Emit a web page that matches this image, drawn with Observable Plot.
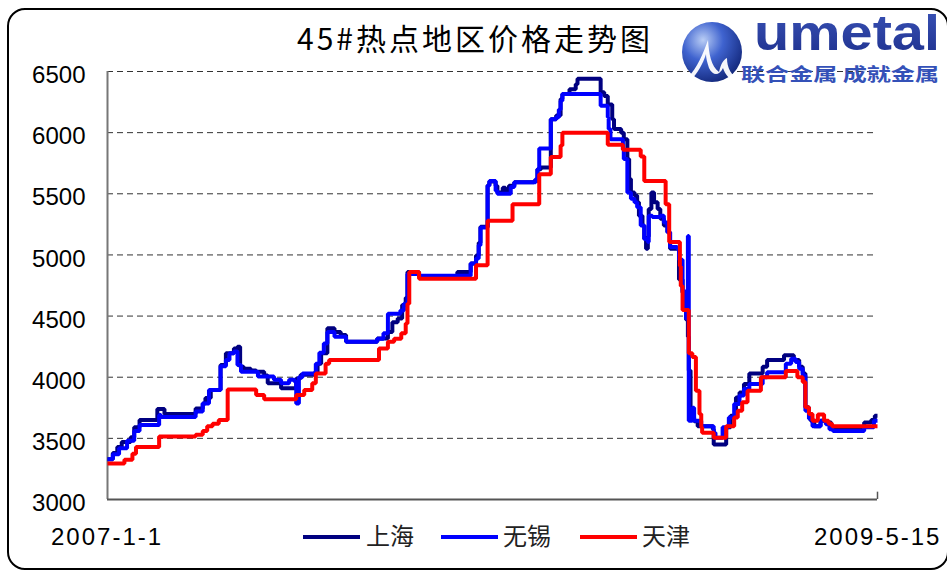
<!DOCTYPE html>
<html><head><meta charset="utf-8">
<script src="https://cdn.jsdelivr.net/npm/d3@7"></script>
<script src="https://cdn.jsdelivr.net/npm/@observablehq/plot@0.6"></script>
<style>
html,body{margin:0;padding:0;background:#fff;}
#wrap{position:relative;width:947px;height:572px;overflow:hidden;background:#fff;}
#wrap svg.chart{position:absolute;left:0;top:0;}
.frame{position:absolute;left:7px;top:8px;width:942px;height:562px;box-sizing:border-box;border:2px solid #000;border-radius:18px;pointer-events:none;}
.xl{position:absolute;top:525px;font-family:"Liberation Sans",Arial,sans-serif;font-size:24px;line-height:24px;letter-spacing:2px;color:#000;white-space:nowrap;}
.lg-line{position:absolute;height:4px;top:535px;}
.lg-text{position:absolute;top:523px;font-family:"Noto Sans CJK SC",sans-serif;font-size:24px;line-height:24px;color:#222;white-space:nowrap;}
.overlay{position:absolute;left:0;top:0;}
</style></head>
<body><div id="wrap"></div>
<script>
// ---- data ----
const titleText = "45#热点地区价格走势图";
const cities = ["上海", "无锡", "天津"];
const cityColors = ["#000080", "#0000FF", "#FF0000"];
const xStart = "2007-01-01";
const xEnd = "2009-05-15";
const xLabels = ["2007-1-1", "2009-5-15"];
const yTicks = [3000, 3500, 4000, 4500, 5000, 5500, 6000, 6500];

const shDates = ["2007-01-01","2007-01-07","2007-01-12","2007-01-17","2007-01-27","2007-01-31","2007-02-06","2007-02-26","2007-03-06","2007-04-10","2007-04-18","2007-04-21","2007-04-27","2007-05-08","2007-05-14","2007-05-23","2007-05-27","2007-05-30","2007-06-03","2007-06-11","2007-06-17","2007-06-26","2007-06-30","2007-07-15","2007-08-01","2007-08-06","2007-08-21","2007-08-25","2007-08-29","2007-09-05","2007-09-13","2007-09-20","2007-09-26","2007-10-31","2007-11-12","2007-11-17","2007-11-23","2007-11-28","2007-12-02","2007-12-04","2007-12-17","2008-01-29","2008-02-13","2008-02-19","2008-02-22","2008-02-24","2008-03-03","2008-03-05","2008-03-12","2008-03-14","2008-03-20","2008-03-23","2008-03-27","2008-04-02","2008-04-24","2008-04-28","2008-05-02","2008-05-13","2008-05-19","2008-05-24","2008-05-26","2008-06-03","2008-06-10","2008-06-12","2008-07-08","2008-07-12","2008-07-16","2008-07-21","2008-07-23","2008-07-31","2008-08-03","2008-08-07","2008-08-09","2008-08-11","2008-08-15","2008-08-18","2008-08-20","2008-08-24","2008-08-26","2008-08-28","2008-08-30","2008-08-31","2008-09-03","2008-09-06","2008-09-10","2008-09-13","2008-09-17","2008-09-21","2008-09-24","2008-10-04","2008-10-08","2008-10-12","2008-10-14","2008-10-15","2008-10-17","2008-10-21","2008-10-25","2008-11-11","2008-11-12","2008-11-26","2008-12-01","2008-12-07","2008-12-11","2008-12-16","2008-12-22","2009-01-06","2009-01-11","2009-01-30","2009-02-10","2009-02-16","2009-02-20","2009-02-23","2009-02-27","2009-03-01","2009-03-05","2009-03-12","2009-03-18","2009-03-24","2009-04-30","2009-05-08","2009-05-12","2009-05-15"];
const shValues = [3330,3380,3430,3470,3510,3590,3650,3740,3700,3745,3785,3830,3895,4100,4195,4235,4250,4085,4070,4055,4045,4015,3950,3910,3990,4020,4035,4110,4195,4400,4370,4345,4290,4317,4370,4450,4480,4590,4650,4860,4820,4860,4930,4995,5100,5230,5570,5600,5565,5510,5550,5510,5565,5595,5605,5700,5715,6110,6140,6275,6315,6355,6395,6440,6330,6300,6230,6110,6030,6000,5945,5785,5620,5510,5485,5430,5320,5240,5130,5050,5150,5375,5510,5430,5375,5295,5240,5185,5050,4800,4690,4470,4330,4055,3670,3640,3600,3575,3450,3590,3685,3835,3875,3945,4030,4085,4140,4180,4140,4085,4030,3755,3700,3645,3600,3645,3630,3575,3630,3650,3685,3685];

const wxDates = ["2007-01-01","2007-01-07","2007-01-14","2007-01-23","2007-01-31","2007-02-06","2007-02-28","2007-03-02","2007-04-10","2007-04-18","2007-04-25","2007-05-08","2007-05-14","2007-05-18","2007-05-23","2007-05-27","2007-05-31","2007-06-19","2007-07-07","2007-07-15","2007-07-24","2007-07-30","2007-08-01","2007-08-04","2007-08-08","2007-08-23","2007-08-27","2007-09-01","2007-09-05","2007-09-13","2007-09-26","2007-10-31","2007-11-07","2007-11-12","2007-11-26","2007-11-30","2007-12-04","2007-12-17","2008-02-13","2008-02-19","2008-02-22","2008-02-24","2008-03-03","2008-03-05","2008-03-12","2008-03-14","2008-03-29","2008-04-02","2008-04-26","2008-04-28","2008-04-30","2008-05-13","2008-05-19","2008-05-22","2008-05-24","2008-05-26","2008-07-08","2008-07-16","2008-07-17","2008-07-19","2008-08-02","2008-08-03","2008-08-07","2008-08-11","2008-08-15","2008-08-18","2008-08-22","2008-08-26","2008-08-30","2008-08-31","2008-09-04","2008-09-13","2008-09-17","2008-09-21","2008-09-24","2008-10-02","2008-10-04","2008-10-08","2008-10-12","2008-10-14","2008-10-15","2008-10-19","2008-10-21","2008-10-29","2008-11-12","2008-11-14","2008-11-22","2008-11-29","2008-12-05","2008-12-11","2008-12-16","2008-12-22","2009-01-06","2009-01-11","2009-02-01","2009-02-07","2009-02-12","2009-02-16","2009-02-20","2009-02-23","2009-02-27","2009-03-03","2009-03-12","2009-03-18","2009-03-22","2009-03-26","2009-04-30","2009-05-11","2009-05-15"];
const wxValues = [3330,3370,3420,3480,3560,3610,3690,3675,3720,3785,3895,4090,4140,4195,4210,4100,4045,4005,3980,3950,3980,3965,3785,4000,4030,4110,4200,4275,4370,4330,4290,4315,4360,4520,4545,4600,4845,4830,4930,4970,5080,5225,5565,5605,5525,5500,5555,5595,5620,5700,5870,6110,6125,6190,6260,6315,6220,6125,6030,5945,5865,5785,5510,5460,5430,5390,5240,5130,5105,5320,5310,5320,5265,5185,5065,5050,4960,4700,4480,5155,3645,3750,3645,3600,3545,3505,3590,3670,3780,3850,3905,3945,4000,4040,4110,4150,4125,4070,4015,3725,3660,3600,3645,3615,3575,3560,3590,3645,3645];

const tjDates = ["2007-01-01","2007-01-20","2007-01-29","2007-02-02","2007-02-28","2007-04-10","2007-04-18","2007-04-23","2007-04-29","2007-05-06","2007-05-16","2007-06-17","2007-06-26","2007-08-01","2007-08-10","2007-08-19","2007-08-23","2007-09-03","2007-09-07","2007-11-02","2007-11-12","2007-11-19","2007-11-27","2007-12-02","2007-12-04","2007-12-06","2007-12-17","2008-02-19","2008-03-03","2008-03-31","2008-04-30","2008-05-13","2008-05-24","2008-05-26","2008-07-16","2008-08-02","2008-08-22","2008-08-26","2008-09-19","2008-09-23","2008-10-05","2008-10-06","2008-10-08","2008-10-15","2008-10-19","2008-10-23","2008-10-27","2008-10-29","2008-10-30","2008-11-12","2008-11-26","2008-12-05","2008-12-09","2008-12-14","2008-12-20","2009-01-04","2009-02-01","2009-02-14","2009-02-20","2009-02-23","2009-02-27","2009-03-03","2009-03-09","2009-03-16","2009-03-21","2009-03-25","2009-05-15"];
const tjValues = [3295,3325,3375,3430,3515,3530,3560,3600,3620,3650,3900,3855,3820,3855,3895,3950,4030,4110,4140,4235,4290,4315,4360,4440,4600,4860,4805,4915,5280,5415,5660,5800,5895,6000,5900,5860,5805,5605,5415,5105,4910,4745,4550,4195,4165,3890,3700,3590,3545,3505,3600,3670,3725,3795,3890,4000,4050,4000,3960,3755,3700,3645,3695,3645,3620,3600,3600];

// ---- build ----
const parse = d3.utcParse("%Y-%m-%d");
const rows = (name, ds, vs) => ds.map((d, i) => ({city: name, date: parse(d), price: vs[i]}));
const data = [
  ...rows(cities[0], shDates, shValues),
  ...rows(cities[1], wxDates, wxValues),
  ...rows(cities[2], tjDates, tjValues)
];

const chart = Plot.plot({
  width: 947, height: 572,
  marginLeft: 107, marginRight: 70, marginTop: 71, marginBottom: 73,
  className: "chart",
  style: {fontFamily: "'Liberation Sans', Arial, sans-serif", fontSize: "24px", color: "#000", background: "transparent", overflow: "visible"},
  x: {type: "utc", domain: [parse(xStart), parse(xEnd)], axis: null},
  y: {domain: [yTicks[0], yTicks[yTicks.length - 1]], axis: null},
  color: {domain: cities, range: cityColors},
  marks: [
    Plot.ruleY(yTicks.slice(1), {stroke: "#333", strokeWidth: 1, strokeDasharray: "6,4"}),
    Plot.axisY(yTicks, {tickSize: 0, tickPadding: 22, fontSize: 24, dy: 4, label: null, tickFormat: d => String(d)}),
    Plot.ruleX([parse(xStart)], {stroke: "#777", strokeWidth: 2}),
    Plot.ruleX([parse(xEnd)], {y1: yTicks[0], y2: yTicks[0] + 60, stroke: "#555", strokeWidth: 1.5}),
    Plot.line(data, {x: "date", y: "price", z: "city", stroke: "city", curve: "step-after", strokeWidth: 4, strokeLinejoin: "miter", strokeLinecap: "butt"}),
    Plot.ruleY([yTicks[0]], {stroke: "#555", strokeWidth: 2})
  ]
});

const wrap = document.getElementById("wrap");
wrap.appendChild(chart);

const frame = document.createElement("div");
frame.className = "frame";
wrap.appendChild(frame);

const xl1 = document.createElement("div");
xl1.className = "xl"; xl1.style.left = "51px"; xl1.textContent = xLabels[0];
wrap.appendChild(xl1);
const xl2 = document.createElement("div");
xl2.className = "xl"; xl2.style.left = "814px"; xl2.textContent = xLabels[1];
wrap.appendChild(xl2);

// legend
const lgLineX = [303, 441, 580];
const lgTextX = [366, 503, 642];
cities.forEach((c, i) => {
  const l = document.createElement("div");
  l.className = "lg-line";
  l.style.left = lgLineX[i] + "px";
  l.style.width = "57px";
  l.style.background = cityColors[i];
  wrap.appendChild(l);
  const t = document.createElement("div");
  t.className = "lg-text";
  t.style.left = lgTextX[i] + "px";
  t.textContent = c;
  wrap.appendChild(t);
});

// title + logo overlay
const ov = document.createElementNS("http://www.w3.org/2000/svg", "svg");
ov.setAttribute("class", "overlay");
ov.setAttribute("width", "947");
ov.setAttribute("height", "572");
ov.innerHTML = `
<defs>
  <radialGradient id="gb" cx="0.35" cy="0.3" r="0.75">
    <stop offset="0" stop-color="#b9cdf5"/>
    <stop offset="0.45" stop-color="#3f63cf"/>
    <stop offset="1" stop-color="#13287c"/>
  </radialGradient>
  <linearGradient id="gt" x1="0" y1="0" x2="0" y2="1">
    <stop offset="0" stop-color="#3b54b8"/>
    <stop offset="1" stop-color="#1d2f8c"/>
  </linearGradient>
</defs>
<text x="297" y="50" font-family="'Noto Sans CJK SC', sans-serif" font-size="30" font-weight="400" fill="#000" textLength="353" lengthAdjust="spacing">${titleText}</text>
<g transform="translate(675,10)">
<circle cx="37" cy="42" r="30" fill="url(#gb)"/>
<path d="M14 66 C 22 58, 28 44, 33 30 C 34 44, 36 56, 44 62 C 46 54, 48 50, 52 48 C 52 58, 56 66, 66 70 L 62 72 C 54 70, 50 64, 48 58 C 44 66, 38 66, 34 58 C 32 52, 31 48, 31 44 C 28 54, 22 64, 16 70 Z" fill="#fff" opacity="0.95"/>
<text x="79" y="40" font-family="'Liberation Sans', Arial, sans-serif" font-weight="bold" font-size="50" fill="url(#gt)" textLength="186" lengthAdjust="spacingAndGlyphs">umetal</text>
<text x="66" y="71" font-family="'Noto Sans CJK SC', sans-serif" font-weight="bold" font-size="18" fill="#3451b8" textLength="198" lengthAdjust="spacingAndGlyphs">联合金属 成就金属</text>
</g>`;
wrap.appendChild(ov);
</script>
</body></html>
